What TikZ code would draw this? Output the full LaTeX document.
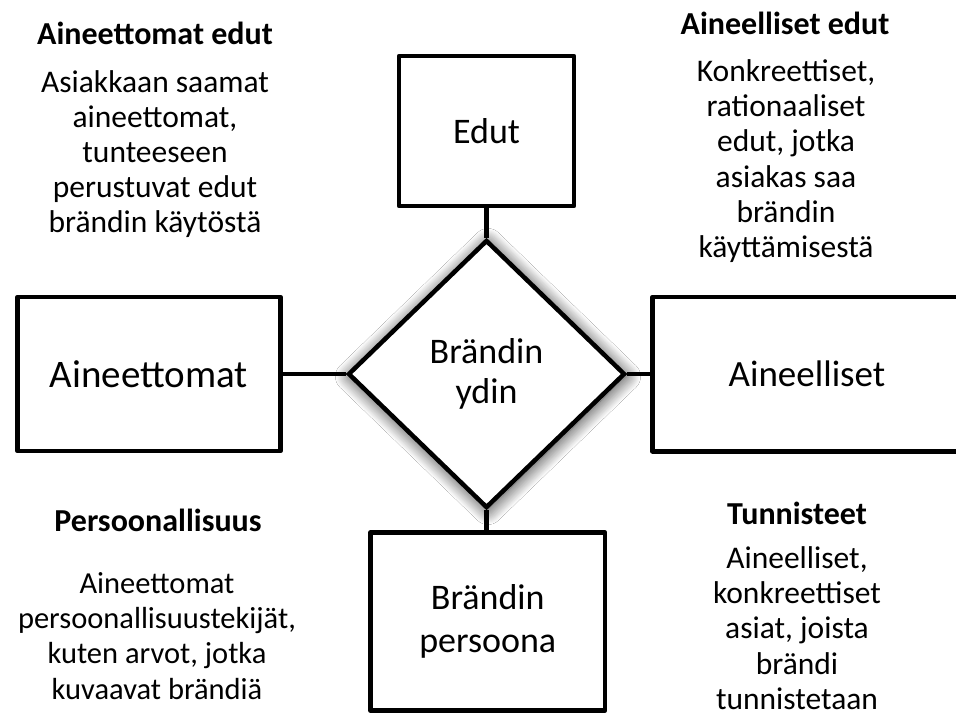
\documentclass[tikz,border=0pt]{standalone}
\usepackage{fontspec}
\setmainfont{Carlito}
\usetikzlibrary{shapes.geometric,shadows.blur}
\begin{document}
\begin{tikzpicture}[x=1pt,y=-1pt,
  box/.style={draw=black, line width=4.5pt, fill=white, rectangle, inner sep=0pt,
    line join=round, align=center},
  core/.style={diamond, draw=black, line width=4.5pt, fill=white, inner sep=0pt,
    line join=miter, font=\fontsize{36}{40}\selectfont, align=center,
    blur shadow={shadow xshift=1.5pt, shadow yshift=-2.5pt, shadow blur radius=15pt,
      shadow blur steps=15, shadow opacity=85}},
  conn/.style={draw=black, line width=4.5pt},
  head/.style={font=\bfseries\fontsize{32}{36}\selectfont, inner sep=0pt},
  body/.style={font=\fontsize{31.5}{35.2}\selectfont, align=center, inner sep=0pt}]
\useasboundingbox (0,0) rectangle (956,715);
\clip (0,0) rectangle (956,715);
\fill[white] (0,0) rectangle (956,715);

\node[box, minimum width=175, minimum height=150, font=\fontsize{36}{43}\selectfont] (edut) at (486.5,131) {Edut};
\node[box, minimum width=263, minimum height=154, font=\fontsize{39}{43}\selectfont] (aineettomat) at (149,374) {Aineettomat};
\node[box, minimum width=309, minimum height=154.5, font=\fontsize{37}{43}\selectfont] (aineelliset) at (807,374) {Aineelliset};
\node[box, minimum width=234.5, minimum height=178, font=\fontsize{36}{43}\selectfont] (persoona) at (487.75,621.5) {Brändin\\persoona};
\node[core, minimum width=277, minimum height=268] (ydin) at (486.5,374) {Brändin\\ydin};

\draw[conn] (edut.south) -- (ydin.north);
\draw[conn] (ydin.south) -- (ydin.south |- persoona.north);
\draw[conn] (aineettomat.east) -- (ydin.west);
\draw[conn] (aineelliset.west) -- (ydin.east);

\node[head] (h1) at (155,33) {Aineettomat edut};
\node[body] (b1) at (155,154) {Asiakkaan saamat\\aineettomat,\\tunteeseen\\perustuvat edut\\brändin käytöstä};
\node[head] (h2) at (785,23) {Aineelliset edut};
\node[body] (b2) at (786,161) {Konkreettiset,\\rationaaliset\\edut, jotka\\asiakas saa\\brändin\\käyttämisestä};
\node[head] (h3) at (158,520) {Persoonallisuus};
\node[body, font=\fontsize{30.5}{35.2}\selectfont] (b3) at (157,636) {Aineettomat\\persoonallisuustekijät,\\kuten arvot, jotka\\kuvaavat brändiä};
\node[head] (h4) at (797,513) {Tunnisteet};
\node[body] (b4) at (797,628) {Aineelliset,\\konkreettiset\\asiat, joista\\brändi\\tunnistetaan};
\end{tikzpicture}
\end{document}
